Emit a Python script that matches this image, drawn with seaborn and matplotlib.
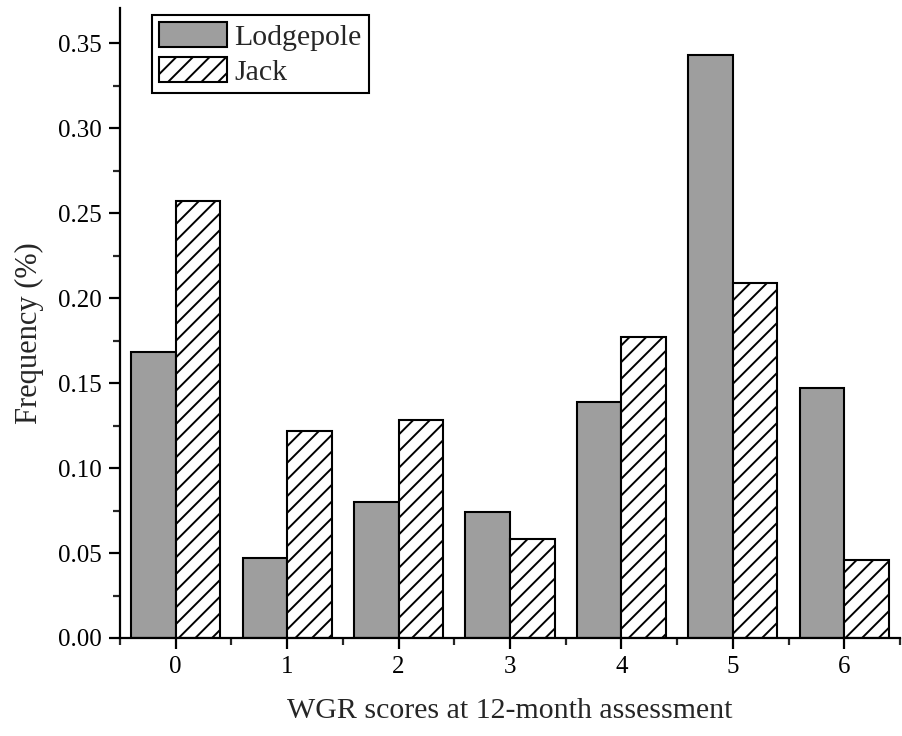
import matplotlib
matplotlib.use("Agg")
import matplotlib.pyplot as plt
from matplotlib.ticker import MultipleLocator, FormatStrFormatter
import seaborn as sns
import pandas as pd

# WGR score categories and frequency per pine species
scores = ["0", "1", "2", "3", "4", "5", "6"]
lodgepole = [0.168, 0.047, 0.080, 0.074, 0.139, 0.343, 0.147]
jack = [0.257, 0.122, 0.128, 0.058, 0.177, 0.209, 0.046]
species = ["Lodgepole", "Jack"]

df = pd.DataFrame({
    "score": scores * 2,
    "freq": lodgepole + jack,
    "species": [species[0]] * len(scores) + [species[1]] * len(scores),
})

sns.set_theme(style="ticks")
plt.rcParams["font.family"] = ["Liberation Serif", "DejaVu Serif"]
plt.rcParams["hatch.linewidth"] = 1.4

fig = plt.figure(figsize=(9.02, 7.36), dpi=100)
ax = fig.add_axes([120 / 902, 98 / 736, 780 / 902, 630 / 736])

sns.barplot(data=df, x="score", y="freq", hue="species", order=scores,
            hue_order=species, palette=["#9e9e9e", "white"], width=0.8,
            edgecolor="black", linewidth=1.5, saturation=1, legend=False, ax=ax)

for bar in ax.containers[1]:
    bar.set_hatch("//")

ax.set_xlim(-0.5, 6.5)
ax.set_ylim(0, 0.3706)
ax.yaxis.set_major_locator(MultipleLocator(0.05))
ax.yaxis.set_minor_locator(MultipleLocator(0.025))
ax.xaxis.set_minor_locator(MultipleLocator(0.5))
ax.yaxis.set_major_formatter(FormatStrFormatter("%.2f"))

for s in ["top", "right"]:
    ax.spines[s].set_visible(False)
for s in ["left", "bottom"]:
    ax.spines[s].set_linewidth(1.6)
    ax.spines[s].set_color("black")

ax.tick_params(axis="both", which="major", direction="out", length=8, width=1.6,
               labelsize=18, colors="black", pad=5)
ax.tick_params(axis="both", which="minor", direction="out", length=5, width=1.6)

ax.set_xlabel("WGR scores at 12-month assessment", fontsize=21.5, labelpad=14)
ax.set_ylabel("Frequency (%)", fontsize=22, labelpad=10)
ax.yaxis.label.set_y(0.484)

handles = [ax.containers[0][0], ax.containers[1][0]]
leg = ax.legend(handles, species, loc="upper left", bbox_to_anchor=(0.041, 0.989),
                fontsize=21.5, frameon=True, fancybox=False, edgecolor="black",
                framealpha=1, handlelength=2.25, handleheight=0.9,
                handletextpad=0.25, labelspacing=0.2, borderpad=0.25,
                borderaxespad=0)
leg.get_frame().set_linewidth(1.5)

fig.savefig("out.png", dpi=100)
